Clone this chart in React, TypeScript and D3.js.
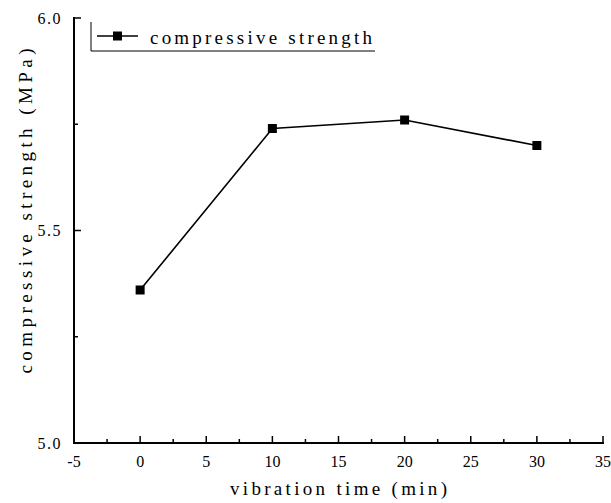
import React from "react";
import * as d3 from "d3";

const times = [0, 10, 20, 30];
const strength = [5.36, 5.74, 5.76, 5.7];
const xTicks = [-5, 0, 5, 10, 15, 20, 25, 30, 35];
const yTicks = [5.0, 5.5, 6.0];
const seriesName = "compressive strength";

const W = 611;
const H = 503;
const m = { left: 74, right: 603, top: 18, bottom: 443 };
const font = "'Liberation Serif', 'DejaVu Serif', serif";

const App = () => {
  const x = d3.scaleLinear().domain([-5, 35]).range([m.left, m.right]);
  const y = d3.scaleLinear().domain([5, 6]).range([m.bottom, m.top]);

  const xMinor = d3.range(-2.5, 35, 5);
  const yMinor = [5.25, 5.75];

  const pts = times.map((t, i) => [t, strength[i]] as [number, number]);
  const line = d3
    .line<[number, number]>()
    .x((d) => x(d[0]))
    .y((d) => y(d[1]));

  return (
    <svg
      width={W}
      height={H}
      style={{ position: "absolute", left: 0, top: 0, background: "#fff" }}
    >
      {/* axes */}
      <line x1={m.left} x2={m.left} y1={m.top - 1} y2={m.bottom + 1} stroke="#000" strokeWidth={2} />
      <line x1={m.left - 1} x2={m.right + 1} y1={m.bottom} y2={m.bottom} stroke="#000" strokeWidth={2} />

      {xTicks.map((t) => (
        <g key={"x" + t}>
          <line x1={x(t)} x2={x(t)} y1={m.bottom} y2={m.bottom - 7} stroke="#000" strokeWidth={1.5} />
          <text x={x(t)} y={m.bottom + 24} textAnchor="middle" fontFamily={font} fontSize={16}>
            {t < 0 ? "-" + Math.abs(t) : t}
          </text>
        </g>
      ))}
      {xMinor.map((t) => (
        <line key={"xm" + t} x1={x(t)} x2={x(t)} y1={m.bottom} y2={m.bottom - 4} stroke="#000" strokeWidth={1.5} />
      ))}

      {yTicks.map((t) => (
        <g key={"y" + t}>
          <line x1={m.left} x2={m.left + 7} y1={y(t)} y2={y(t)} stroke="#000" strokeWidth={1.5} />
          <text
            x={m.left - 12}
            y={y(t)}
            dy="0.35em"
            textAnchor="end"
            fontFamily={font}
            fontSize={16}
            letterSpacing={1.5}
          >
            {t.toFixed(1)}
          </text>
        </g>
      ))}
      {yMinor.map((t) => (
        <line key={"ym" + t} x1={m.left} x2={m.left + 4} y1={y(t)} y2={y(t)} stroke="#000" strokeWidth={1.5} />
      ))}

      {/* series */}
      <path d={line(pts) || ""} fill="none" stroke="#000" strokeWidth={1.6} />
      {pts.map((d, i) => (
        <rect key={i} x={x(d[0]) - 4.5} y={y(d[1]) - 4.5} width={9} height={9} fill="#000" />
      ))}

      {/* legend */}
      <line x1={91} x2={91} y1={22} y2={51} stroke="#000" strokeWidth={1} />
      <line x1={91} x2={375} y1={51} y2={51} stroke="#000" strokeWidth={1} />
      <line x1={97} x2={138} y1={36} y2={36} stroke="#000" strokeWidth={1.6} />
      <rect x={113} y={31.5} width={9} height={9} fill="#000" />
      <text x={150} y={44} fontFamily={font} fontSize={19} textLength={222} lengthAdjust="spacing">
        {seriesName}
      </text>

      {/* axis titles */}
      <text
        x={(m.left + m.right) / 2}
        y={495}
        textAnchor="middle"
        fontFamily={font}
        fontSize={19}
        textLength={217}
        lengthAdjust="spacing"
      >
        vibration time (min)
      </text>
      <text
        transform="translate(32, 211) rotate(-90)"
        textAnchor="middle"
        fontFamily={font}
        fontSize={19}
        textLength={325}
        lengthAdjust="spacing"
      >
        compressive strength (MPa)
      </text>
    </svg>
  );
};

export default App;
